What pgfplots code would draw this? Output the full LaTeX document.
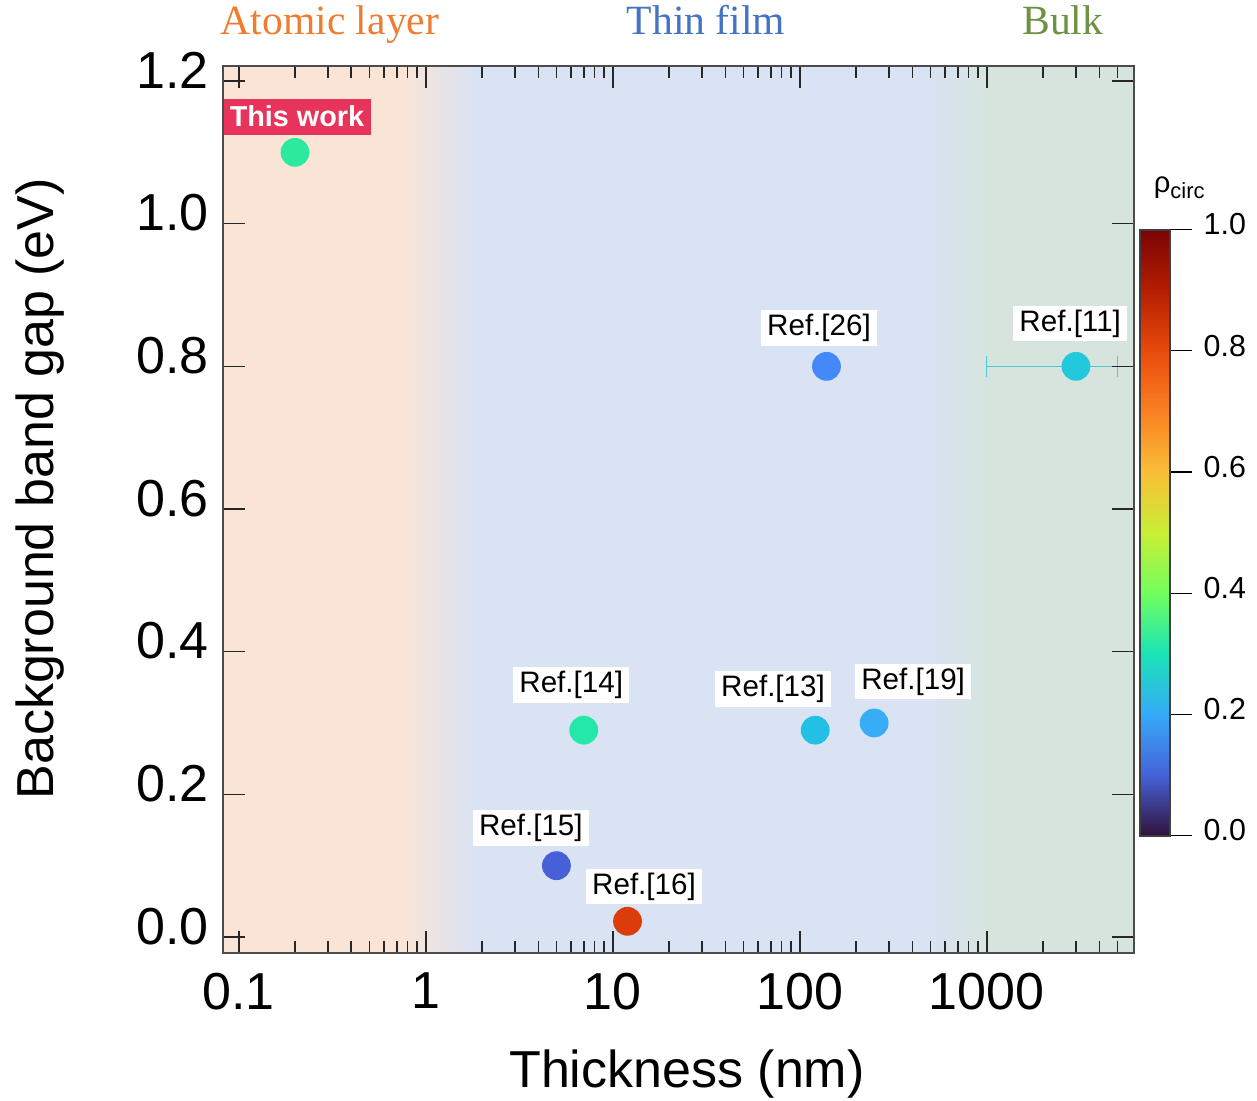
\documentclass[border=0pt]{standalone}
\usepackage{pgfplots}
\pgfplotsset{compat=1.18}
\usepackage{fontspec}
\setmainfont{Liberation Sans}
\newfontfamily\seriffont{Liberation Serif}
\definecolor{peach}{RGB}{250,228,214}
\definecolor{lblue}{RGB}{218,227,243}
\definecolor{lgreen}{RGB}{214,228,221}
\definecolor{aorange}{RGB}{237,125,49}
\definecolor{tblue}{RGB}{68,114,196}
\definecolor{bgreen}{RGB}{110,145,68}
\definecolor{workred}{RGB}{232,52,90}
\definecolor{cwork}{RGB}{43,234,158}
\definecolor{cfourteen}{RGB}{35,232,168}
\definecolor{cthirteen}{RGB}{34,192,228}
\definecolor{cnineteen}{RGB}{55,173,245}
\definecolor{ctwentysix}{RGB}{69,137,248}
\definecolor{celeven}{RGB}{34,200,220}
\definecolor{cerr}{RGB}{76,200,216}
\definecolor{cfifteen}{RGB}{71,96,216}
\definecolor{csixteen}{RGB}{220,60,10}
\pgfplotsset{/pgf/number format/assume math mode=true}
\begin{document}
\begin{tikzpicture}
\begin{axis}[
  at={(0,0)}, anchor=south west,
  scale only axis, width=227.825pt, height=221.75pt,
  xmode=log, xmin=0.0821, xmax=6130,
  ymin=-0.022, ymax=1.2215,
  axis on top, clip=false,
  xtick={0.1,1,10,100,1000},
  xticklabels={0.1,1,10,100,1000},
  minor xtick={0.2,0.3,0.4,0.5,0.6,0.7,0.8,0.9,2,3,4,5,6,7,8,9,20,30,40,50,60,70,80,90,200,300,400,500,600,700,800,900,2000,3000,4000,5000},
  ytick={0,0.2,0.4,0.6,0.8,1.0,1.2},
  tick align=inside,
  major tick length=5.5pt, minor tick length=3pt,
  xtick pos=both, ytick pos=both,
  axis line style={black!70, line width=0.5pt},
  every tick/.style={black!85, line width=0.4pt},
  tick label style={font=\fontsize{13}{15}\selectfont},
  xticklabel style={yshift=-1.5pt},
  yticklabel style={yshift=2.7pt, /pgf/number format/fixed, /pgf/number format/fixed zerofill, /pgf/number format/precision=1},
  xlabel={Thickness (nm)}, ylabel={Background band gap (eV)},
  label style={font=\fontsize{13}{15}\selectfont},
  xlabel style={at={(rel axis cs:0.5095,-0.1525)}, anchor=base},
  ylabel style={at={(rel axis cs:-0.200,0.523)}, anchor=center},
  colormap={turbo}{rgb255=(48,18,59) rgb255=(70,98,216) rgb255=(54,170,249) rgb255=(26,228,182) rgb255=(114,254,94) rgb255=(200,239,52) rgb255=(250,190,55) rgb255=(251,128,34) rgb255=(232,75,12) rgb255=(180,30,2) rgb255=(122,4,3)},
  point meta min=0, point meta max=1,
  colorbar,
  colorbar style={
    at={(parent axis.north east)}, anchor=north west,
    xshift=-7.04pt, yshift=-41pt,
    scale only axis,
    width=7.5pt, height=151.5pt,
    ytick={0,0.2,0.4,0.6,0.8,1.0},
    ytick pos=right, yticklabel pos=right,
    tick align=outside, major tick length=5.5pt,
    every tick/.style={black, line width=0.3pt},
    axis line style={black!75, line width=0.45pt},
    yticklabel style={font=\fontsize{7.6}{9}\selectfont, xshift=-0.6pt, yshift=1.3pt, /pgf/number format/fixed, /pgf/number format/fixed zerofill, /pgf/number format/precision=1},
  },
]
% background regions
\fill[peach] (rel axis cs:0,0) rectangle (rel axis cs:0.1956,1);
\shade[left color=peach, right color=lblue] (rel axis cs:0.1946,0) rectangle (rel axis cs:0.2768,1);
\fill[lblue] (rel axis cs:0.2758,0) rectangle (rel axis cs:0.7771,1);
\shade[left color=lblue, right color=lgreen] (rel axis cs:0.7761,0) rectangle (rel axis cs:0.8462,1);
\fill[lgreen] (rel axis cs:0.8452,0) rectangle (rel axis cs:1,1);

% error bar point Ref.[11]
\addplot[only marks, mark=*, mark size=3.4pt, color=celeven,
  error bars/.cd, x dir=both, x explicit, error mark=|,
  error bar style={line width=0.35pt, color=cerr},
  error mark options={mark size=2.6pt, line width=0.35pt, color=cerr}]
  coordinates {(3000,0.8) -= (2000,0) += (2000,0)};

\addplot[only marks, mark=*, mark size=3.4pt, color=cwork] coordinates {(0.2,1.1)};
\addplot[only marks, mark=*, mark size=3.4pt, color=ctwentysix] coordinates {(139,0.8)};
\addplot[only marks, mark=*, mark size=3.4pt, color=cfourteen] coordinates {(7,0.29)};
\addplot[only marks, mark=*, mark size=3.4pt, color=cthirteen] coordinates {(121,0.29)};
\addplot[only marks, mark=*, mark size=3.4pt, color=cnineteen] coordinates {(250,0.30)};
\addplot[only marks, mark=*, mark size=3.4pt, color=cfifteen] coordinates {(5,0.10)};
\addplot[only marks, mark=*, mark size=3.4pt, color=csixteen] coordinates {(12,0.022)};

% labels
\node[fill=workred, text=white, font=\bfseries\fontsize{7.2}{9}\selectfont, inner xsep=1.7pt, inner ysep=1.9pt] at (axis cs:0.205,1.150) {This work};
\node[fill=white, inner xsep=1.6pt, inner ysep=1pt, font=\fontsize{7.4}{9}\selectfont] at (axis cs:126.8,0.854) {Ref.[26]};
\node[fill=white, inner xsep=1.6pt, inner ysep=1pt, font=\fontsize{7.4}{9}\selectfont] at (axis cs:2795,0.860) {Ref.[11]};
\node[fill=white, inner xsep=1.6pt, inner ysep=1pt, font=\fontsize{7.4}{9}\selectfont] at (axis cs:6.0,0.353) {Ref.[14]};
\node[fill=white, inner xsep=1.6pt, inner ysep=1pt, font=\fontsize{7.4}{9}\selectfont] at (axis cs:72,0.348) {Ref.[13]};
\node[fill=white, inner xsep=1.6pt, inner ysep=1pt, font=\fontsize{7.4}{9}\selectfont] at (axis cs:404,0.358) {Ref.[19]};
\node[fill=white, inner xsep=1.6pt, inner ysep=1pt, font=\fontsize{7.4}{9}\selectfont] at (axis cs:3.65,0.153) {Ref.[15]};
\node[fill=white, inner xsep=1.6pt, inner ysep=1pt, font=\fontsize{7.4}{9}\selectfont] at (axis cs:14.7,0.071) {Ref.[16]};

% region titles
\node[anchor=base, font=\seriffont\fontsize{10.4}{12}\selectfont, text=aorange] at (rel axis cs:0.1177,1.0357) {Atomic layer};
\node[anchor=base, font=\seriffont\fontsize{10.4}{12}\selectfont, text=tblue] at (rel axis cs:0.5303,1.0357) {Thin film};
\node[anchor=base, font=\seriffont\fontsize{10.4}{12}\selectfont, text=bgreen] at (rel axis cs:0.9219,1.0357) {Bulk};

% colorbar title
\node[anchor=base west, inner sep=0pt, font=\fontsize{7.3}{9}\selectfont] at (rel axis cs:1.0209,0.8565) {ρ\raisebox{-0.35ex}{\fontsize{5.5}{6}\selectfont circ}};
\end{axis}
\pgfresetboundingbox
\useasboundingbox (-55.675pt,-37.075pt) rectangle (258.575pt,238.175pt);
\end{tikzpicture}
\end{document}
